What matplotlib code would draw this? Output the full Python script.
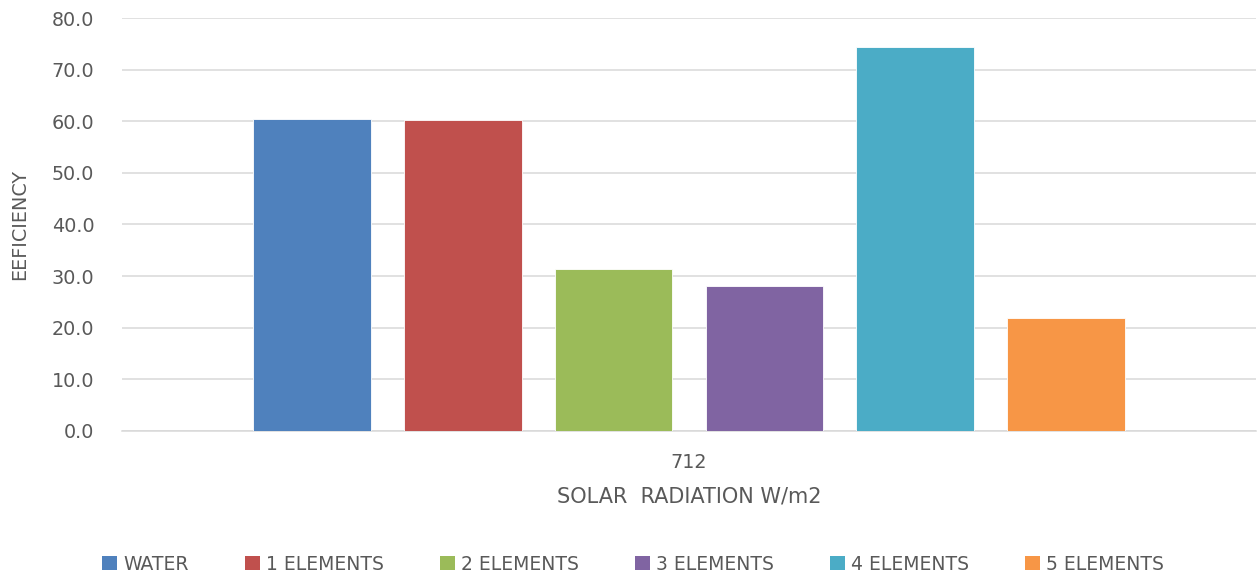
import matplotlib
matplotlib.use("Agg")
import matplotlib.pyplot as plt
from matplotlib.patches import Patch

plt.rcParams['font.family'] = ['DejaVu Sans']

series = ["WATER", "1 ELEMENTS", "2 ELEMENTS", "3 ELEMENTS", "4 ELEMENTS", "5 ELEMENTS"]
efficiency = [60.5, 60.2, 31.3, 28.0, 74.3, 21.9]
colors = ["#4F81BD", "#C0504D", "#9BBB59", "#8064A2", "#4BACC6", "#F79646"]
category = "712"
yticks = [0, 10, 20, 30, 40, 50, 60, 70, 80]

text_color = "#595959"
grid_color = "#D9D9D9"

fig = plt.figure(figsize=(12.6, 5.77), dpi=100)
ax = fig.add_axes([122 / 1260, 1 - 431 / 577, (1256 - 122) / 1260, (431 - 18) / 577])

positions = list(range(len(series)))
ax.bar(positions, efficiency, width=0.78, color=colors, edgecolor="white",
       linewidth=0.6, zorder=3)

ax.set_xlim(-1.26, 6.26)
ax.set_ylim(0, 80)
ax.set_yticks(yticks)
ax.set_yticklabels([f"{v:.1f}" for v in yticks])
ax.yaxis.grid(True, color=grid_color, linewidth=1.1, zorder=0)
ax.set_axisbelow(True)

ax.set_xticks([2.5])
ax.set_xticklabels([category])

for s in ["top", "right", "left"]:
    ax.spines[s].set_visible(False)
ax.spines["bottom"].set_color(grid_color)
ax.spines["bottom"].set_linewidth(1.1)

ax.tick_params(axis="both", length=0, labelsize=13.8, labelcolor=text_color)
ax.tick_params(axis="y", pad=20)
ax.tick_params(axis="x", pad=16)

ax.set_xlabel("SOLAR  RADIATION W/m2", fontsize=15, color=text_color, labelpad=10)
fig.text(20 / 1260, 1 - 224 / 577, "EEFICIENCY", rotation=90, fontsize=13.8,
         color=text_color, ha="center", va="center")

handles = [Patch(facecolor=c, edgecolor="none") for c in colors]
fig.legend(handles, series, loc="center", bbox_to_anchor=(633 / 1260, 1 - 564 / 577),
           ncol=6, frameon=False, fontsize=13.5, labelcolor=text_color,
           handlelength=0.8, handleheight=0.8, handletextpad=0.32,
           columnspacing=3.0)

fig.savefig("out.png", dpi=100)
